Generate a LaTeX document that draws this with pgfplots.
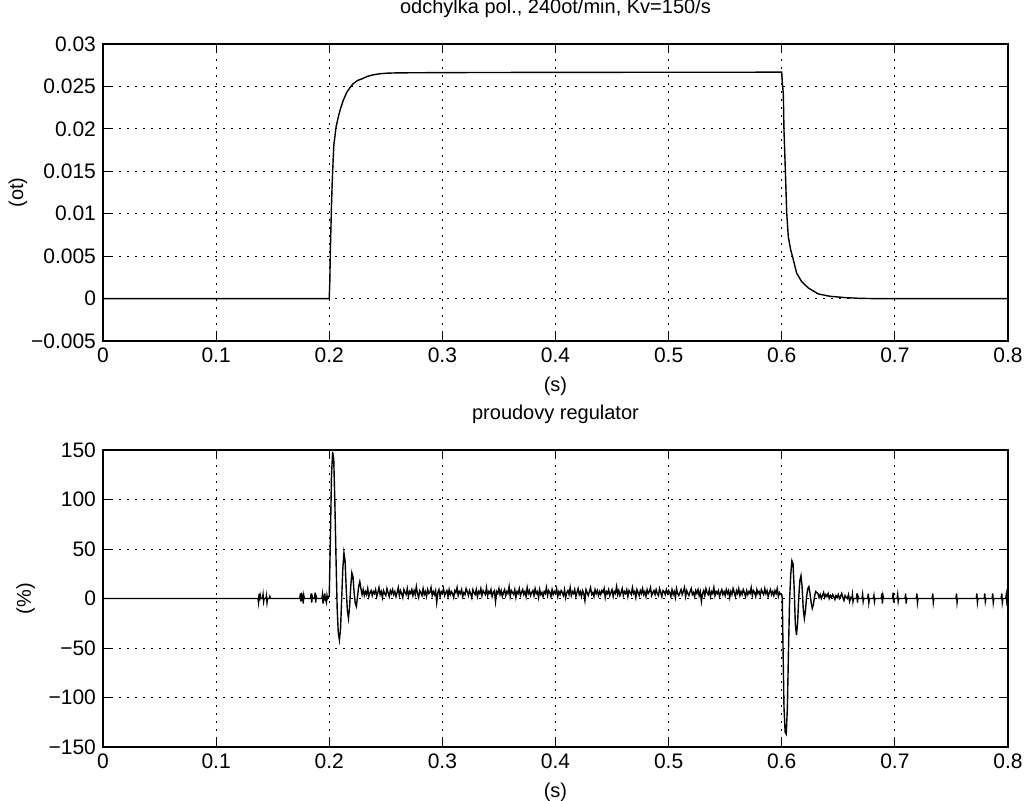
\documentclass[border=0pt]{standalone}
\usepackage{fontspec}
\setmainfont{Liberation Sans}
\usepackage{pgfplots}
\pgfplotsset{compat=1.18}
\begin{document}
\begin{tikzpicture}
\useasboundingbox (-51.5pt,22pt) rectangle (461pt,-378pt);
\pgfplotsset{
  mstyle/.style={
    scale only axis, width=452.5pt, height=148.5pt,
    anchor=north west,
    xmin=0, xmax=0.8,
    xtick={0,0.1,0.2,0.3,0.4,0.5,0.6,0.7,0.8},
    xticklabels={0,0.1,0.2,0.3,0.4,0.5,0.6,0.7,0.8},
    scaled y ticks=false, scaled x ticks=false,
    grid=major,
    grid style={black, line width=0.5pt, dash pattern=on 1pt off 3pt},
    tick align=inside, major tick length=4pt,
    tick style={black, line width=0.5pt},
    axis line style={line width=0.6pt},
    xlabel={(s)},
    title style={at={(0.5,1)}, anchor=base, yshift=9.5pt, font=\fontsize{10}{12}\selectfont},
    tick label style={font=\fontsize{10.5}{12}\selectfont},
    label style={font=\fontsize{10}{12}\selectfont},
  },
  sig/.style={black, line width=0.7pt, mark=none},
}
\begin{axis}[mstyle, at={(0,0)},
  ymin=-0.005, ymax=0.03,
  ytick={-0.005,0,0.005,0.01,0.015,0.02,0.025,0.03},
  yticklabels={−0.005,0,0.005,0.01,0.015,0.02,0.025,0.03},
  ylabel={(ot)}, ylabel style={yshift=-5pt},
  title={odchylka pol., 240ot/min, Kv=150/s}]
\addplot[sig] coordinates {(0,0)(0.2,0)(0.2005,0.002)(0.2010,0.0058)(0.2020,0.0110)(0.2027,0.0140)(0.2040,0.0180)(0.2060,0.0202)(0.2080,0.0214)(0.2100,0.0224)(0.2125,0.0234)(0.2155,0.0243)(0.2180,0.0248)(0.2210,0.0253)(0.2250,0.0257)(0.2290,0.0259)(0.2340,0.0262)(0.2390,0.02637)(0.2450,0.0265)(0.2510,0.02656)(0.2600,0.0266)(0.3000,0.02663)(0.4000,0.02666)(0.5000,0.02667)(0.6000,0.02668)(0.6005,0.0255)(0.6014,0.0241)(0.6020,0.0198)(0.6032,0.0151)(0.6044,0.0101)(0.6058,0.0073)(0.6079,0.00575)(0.6102,0.0046)(0.6132,0.0030)(0.6176,0.0020)(0.6235,0.00125)(0.6323,0.00055)(0.6426,0.00027)(0.6574,0.0001)(0.6692,0.00003)(0.68,0)(0.8,0)};
\end{axis}
\begin{axis}[mstyle, at={(0,-203pt)},
  ymin=-150, ymax=150,
  ytick={-150,-100,-50,0,50,100,150},
  yticklabels={−150,−100,−50,0,50,100,150},
  ylabel={(\%)},
  title={proudovy regulator}]
\addplot[sig] coordinates {
(0,0)(0.137,0)(0.1375,-4)(0.138,5)(0.1385,-2)(0.139,3)(0.1395,0)(0.141,0)(0.1415,4)(0.142,-3)(0.1425,0)(0.144,0)(0.1445,3)(0.145,-4)(0.1455,0)(0.147,0)(0.1475,2)(0.148,0)
(0.174,0)(0.1745,5)(0.175,-3)(0.1755,6)(0.176,-2)(0.1765,4)(0.177,-5)(0.1775,3)(0.178,0)(0.1835,0)(0.184,5)(0.1845,-4)(0.185,2)(0.1855,0)(0.187,0)(0.1875,6)(0.188,-4)(0.1885,2)(0.189,0)
(0.1935,0)(0.194,4)(0.1945,-5)(0.195,3)(0.1955,-2)(0.196,5)(0.1965,0)(0.1975,-4)(0.198,3)(0.1985,0)(0.1995,2)
(0.2000,2)(0.2010,60)(0.2020,125)(0.2030,148)(0.2040,140)(0.2050,95)(0.2060,40)(0.2070,-10)(0.2080,-35)(0.2090,-42)(0.2100,-30)(0.2110,0)(0.2120,30)(0.2130,46)(0.2140,38)(0.2150,10)(0.2160,-12)(0.2170,-20)(0.2180,-8)(0.2190,12)(0.2200,26)(0.2210,22)(0.2220,6)(0.2230,-5)(0.2240,-8)(0.2250,2)(0.2260,12)(0.2270,17)(0.2280,10)(0.2290,4)
(0.230,9)(0.231,3)(0.232,7)(0.233,4)(0.234,10)(0.235,2)(0.236,6)(0.237,8)(0.238,3)(0.239,7)
(0.240,5)(0.241,9)(0.242,2)(0.243,6)(0.244,11)(0.245,4)(0.246,7)(0.247,1)(0.248,8)(0.249,5)
(0.250,3)(0.251,10)(0.252,6)(0.253,2)(0.254,8)(0.255,5)(0.256,9)(0.257,4)(0.258,7)(0.259,2)
(0.260,6)(0.261,11)(0.262,3)(0.263,8)(0.264,5)(0.265,1)(0.266,9)(0.267,6)(0.268,4)(0.269,10)
(0.270,2)(0.271,7)(0.272,5)(0.273,9)(0.274,3)(0.275,8)(0.276,4)(0.277,12)(0.278,5)(0.279,1)
(0.280,8)(0.281,6)(0.282,3)(0.283,10)(0.284,4)(0.285,7)(0.286,2)(0.287,9)(0.288,5)(0.289,6)
(0.290,11)(0.291,3)(0.292,7)(0.293,4)(0.294,8)(0.295,-4)(0.296,6)(0.297,9)(0.298,2)(0.299,7)
(0.300,5)(0.301,10)(0.302,3)(0.303,6)(0.304,8)(0.305,2)(0.306,9)(0.307,4)(0.308,7)(0.309,5)
(0.310,1)(0.311,8)(0.312,6)(0.313,11)(0.314,3)(0.315,7)(0.316,5)(0.317,9)(0.318,2)(0.319,6)
(0.320,4)(0.321,10)(0.322,7)(0.323,3)(0.324,8)(0.325,5)(0.326,1)(0.327,9)(0.328,6)(0.329,4)
(0.330,9)(0.331,2)(0.332,7)(0.333,5)(0.334,10)(0.335,3)(0.336,8)(0.337,6)(0.338,4)(0.339,11)
(0.340,3)(0.341,7)(0.342,5)(0.343,9)(0.344,2)(0.345,6)(0.346,8)(0.347,-3)(0.348,7)(0.349,5)
(0.350,10)(0.351,4)(0.352,8)(0.353,2)(0.354,6)(0.355,9)(0.356,3)(0.357,7)(0.358,5)(0.359,12)
(0.360,2)(0.361,8)(0.362,6)(0.363,4)(0.364,9)(0.365,1)(0.366,7)(0.367,5)(0.368,10)(0.369,3)
(0.370,6)(0.371,9)(0.372,4)(0.373,7)(0.374,2)(0.375,11)(0.376,5)(0.377,8)(0.378,3)(0.379,6)
(0.380,8)(0.381,3)(0.382,10)(0.383,5)(0.384,7)(0.385,1)(0.386,9)(0.387,4)(0.388,6)(0.389,2)
(0.390,7)(0.391,5)(0.392,11)(0.393,3)(0.394,8)(0.395,6)(0.396,2)(0.397,9)(0.398,4)(0.399,7)
(0.400,5)(0.401,10)(0.402,2)(0.403,7)(0.404,4)(0.405,8)(0.406,6)(0.407,3)(0.408,9)(0.409,1)
(0.410,6)(0.411,8)(0.412,4)(0.413,11)(0.414,3)(0.415,7)(0.416,5)(0.417,9)(0.418,2)(0.419,6)
(0.420,10)(0.421,4)(0.422,7)(0.423,2)(0.424,8)(0.425,5)(0.426,-2)(0.427,9)(0.428,6)(0.429,3)
(0.430,7)(0.431,11)(0.432,4)(0.433,6)(0.434,2)(0.435,9)(0.436,5)(0.437,8)(0.438,3)(0.439,7)
(0.440,4)(0.441,8)(0.442,6)(0.443,10)(0.444,1)(0.445,7)(0.446,5)(0.447,9)(0.448,3)(0.449,6)
(0.450,9)(0.451,2)(0.452,7)(0.453,5)(0.454,12)(0.455,4)(0.456,8)(0.457,3)(0.458,6)(0.459,10)
(0.460,3)(0.461,7)(0.462,5)(0.463,9)(0.464,2)(0.465,8)(0.466,6)(0.467,4)(0.468,11)(0.469,5)
(0.470,7)(0.471,1)(0.472,9)(0.473,6)(0.474,3)(0.475,8)(0.476,5)(0.477,10)(0.478,4)(0.479,7)
(0.480,2)(0.481,9)(0.482,5)(0.483,7)(0.484,11)(0.485,3)(0.486,6)(0.487,8)(0.488,4)(0.489,9)
(0.490,5)(0.491,3)(0.492,10)(0.493,6)(0.494,2)(0.495,8)(0.496,7)(0.497,4)(0.498,9)(0.499,5)
(0.500,8)(0.501,6)(0.502,2)(0.503,9)(0.504,4)(0.505,7)(0.506,1)(0.507,10)(0.508,5)(0.509,3)
(0.510,6)(0.511,9)(0.512,4)(0.513,7)(0.514,11)(0.515,2)(0.516,8)(0.517,5)(0.518,3)(0.519,7)
(0.520,10)(0.521,4)(0.522,6)(0.523,2)(0.524,8)(0.525,5)(0.526,9)(0.527,3)(0.528,7)(0.529,-3)
(0.530,5)(0.531,8)(0.532,3)(0.533,10)(0.534,6)(0.535,4)(0.536,9)(0.537,2)(0.538,7)(0.539,5)
(0.540,11)(0.541,3)(0.542,7)(0.543,5)(0.544,8)(0.545,2)(0.546,6)(0.547,9)(0.548,4)(0.549,7)
(0.550,3)(0.551,9)(0.552,5)(0.553,8)(0.554,1)(0.555,7)(0.556,4)(0.557,10)(0.558,6)(0.559,2)
(0.560,8)(0.561,5)(0.562,10)(0.563,3)(0.564,7)(0.565,4)(0.566,9)(0.567,6)(0.568,2)(0.569,8)
(0.570,4)(0.571,7)(0.572,5)(0.573,11)(0.574,3)(0.575,8)(0.576,6)(0.577,2)(0.578,9)(0.579,5)
(0.580,7)(0.581,3)(0.582,9)(0.583,6)(0.584,4)(0.585,10)(0.586,5)(0.587,8)(0.588,2)(0.589,6)
(0.590,9)(0.591,4)(0.592,7)(0.593,3)(0.594,8)(0.595,5)(0.596,10)(0.597,2)(0.598,6)(0.599,4)
(0.6000,4)(0.6005,0)(0.6010,-40)(0.6020,-110)(0.6030,-135)(0.6040,-137)(0.6050,-110)(0.6060,-50)(0.6070,0)(0.6080,25)(0.6090,38)(0.6100,35)(0.6110,10)(0.6120,-25)(0.6130,-37)(0.6140,-25)(0.6150,0)(0.6160,18)(0.6170,23)(0.6180,12)(0.6190,-10)(0.6200,-20)(0.6210,-12)(0.6220,2)(0.6230,10)(0.6240,12)(0.6250,5)(0.6260,-4)(0.6270,-10)(0.6280,-6)(0.6290,2)(0.6300,7)(0.6310,6)
(0.632,5)(0.633,1)(0.634,4)(0.635,0)(0.636,3)(0.637,6)(0.638,1)(0.639,4)(0.640,2)(0.641,5)(0.642,0)(0.643,3)(0.644,1)(0.645,4)(0.646,2)(0.647,-1)(0.648,3)(0.649,1)(0.650,4)(0.651,0)(0.652,2)(0.653,5)(0.654,1)(0.655,-2)(0.656,3)(0.657,1)(0.658,0)(0.659,4)(0.660,-3)(0.661,1)(0.662,0)
(0.6625,4)(0.663,-3)(0.6635,0)(0.666,0)(0.6665,5)(0.667,-4)(0.6675,2)(0.668,0)(0.671,0)(0.6715,4)(0.672,-3)(0.6725,0)(0.676,0)(0.6765,5)(0.677,-4)(0.6775,0)(0.681,0)(0.6815,3)(0.682,-3)(0.6825,0)
(0.688,0)(0.6885,5)(0.689,-5)(0.6895,3)(0.690,0)(0.698,0)(0.6985,6)(0.699,-4)(0.6995,0)(0.702,0)(0.7025,4)(0.703,-3)(0.7035,0)(0.709,0)(0.7095,5)(0.710,-5)(0.7105,0)
(0.719,0)(0.7195,5)(0.720,-4)(0.7205,0)(0.733,0)(0.7335,5)(0.734,-4)(0.7345,0)(0.754,0)(0.7545,5)(0.755,-4)(0.7555,0)(0.772,0)(0.7725,5)(0.773,-4)(0.7735,0)
(0.779,0)(0.7795,5)(0.780,-3)(0.7805,0)(0.786,0)(0.7865,5)(0.787,-4)(0.7875,0)(0.794,0)(0.7945,5)(0.795,-4)(0.7955,0)(0.798,0)(0.7985,4)(0.799,-3)(0.7995,0)(0.8,0)
};
\end{axis}
\end{tikzpicture}
\end{document}
